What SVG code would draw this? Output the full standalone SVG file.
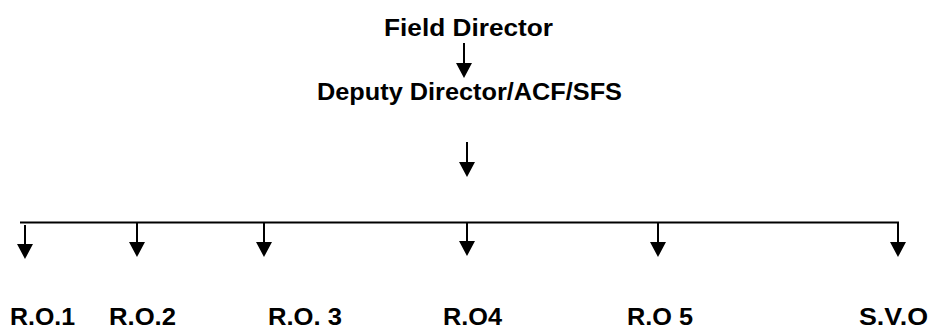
<svg xmlns="http://www.w3.org/2000/svg" width="931" height="329" viewBox="0 0 931 329">
<style>
text{font-family:"Liberation Sans",Arial,sans-serif;font-weight:bold;font-size:23px;fill:#000}
.ln{stroke:#000;stroke-width:2;fill:none}
.hd{fill:#000}
</style>
<rect width="931" height="329" fill="#fff"/>
<g id="field-director"><text x="384" y="36" textLength="169" lengthAdjust="spacingAndGlyphs">Field Director</text></g>
<g id="deputy-director"><text x="317" y="100" textLength="305" lengthAdjust="spacingAndGlyphs">Deputy Director/ACF/SFS</text></g>
<g id="ro1"><text x="10" y="325" textLength="65" lengthAdjust="spacingAndGlyphs">R.O.1</text></g>
<g id="ro2"><text x="109" y="325" textLength="67" lengthAdjust="spacingAndGlyphs">R.O.2</text></g>
<g id="ro3"><text x="268" y="325" textLength="74" lengthAdjust="spacingAndGlyphs">R.O. 3</text></g>
<g id="ro4"><text x="443" y="325" textLength="59" lengthAdjust="spacingAndGlyphs">R.O4</text></g>
<g id="ro5"><text x="627" y="325" textLength="66" lengthAdjust="spacingAndGlyphs">R.O 5</text></g>
<g id="svo"><text x="859" y="325" textLength="69" lengthAdjust="spacingAndGlyphs">S.V.O</text></g>
<g id="connectors">
<line class="ln" x1="464" y1="43" x2="464" y2="66"/><polygon class="hd" points="456,63 472,63 464,78"/>
<line class="ln" x1="467" y1="142" x2="467" y2="165"/><polygon class="hd" points="459,162 475,162 467,177"/>
<line class="ln" x1="20" y1="222.5" x2="899" y2="222.5"/>
<line class="ln" x1="25" y1="225" x2="25" y2="247"/><polygon class="hd" points="17,244 33,244 25,259"/>
<line class="ln" x1="137" y1="223" x2="137" y2="245"/><polygon class="hd" points="129,242 145,242 137,257"/>
<line class="ln" x1="264" y1="223" x2="264" y2="245"/><polygon class="hd" points="256,242 272,242 264,257"/>
<line class="ln" x1="467" y1="223" x2="467" y2="245"/><polygon class="hd" points="459,241 475,241 467,256"/>
<line class="ln" x1="658" y1="223" x2="658" y2="245"/><polygon class="hd" points="650,242 666,242 658,257"/>
<line class="ln" x1="898" y1="222" x2="898" y2="245"/><polygon class="hd" points="890,242 906,242 898,257"/>
</g>
</svg>
